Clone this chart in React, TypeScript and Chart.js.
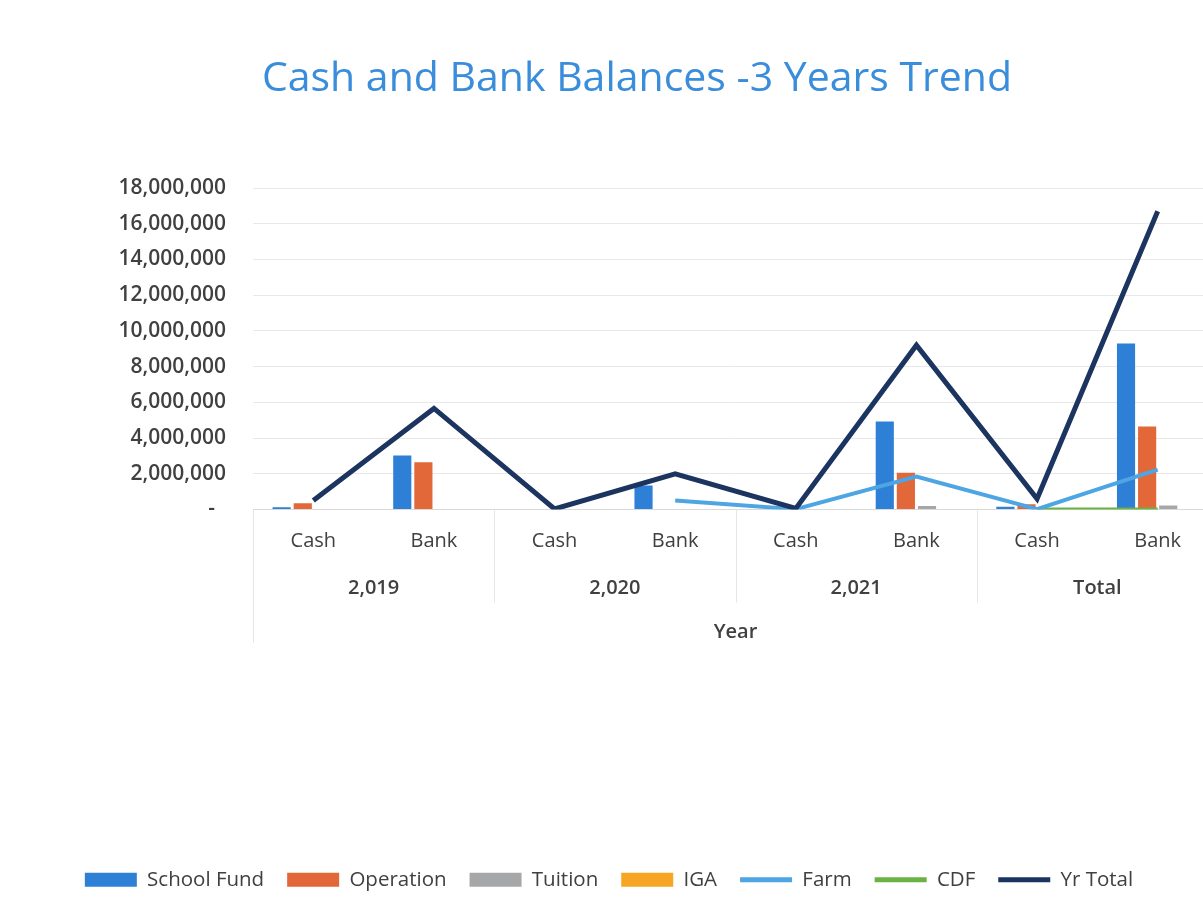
import React, { useEffect, useRef } from "react";
import { Chart, registerables } from "chart.js";

Chart.register(...registerables);

const TITLE = "Cash and Bank Balances -3 Years Trend";
const categories = ["Cash", "Bank", "Cash", "Bank", "Cash", "Bank", "Cash", "Bank"];
const groups = ["2,019", "2,020", "2,021", "Total"];
const axisTitle = "Year";

const schoolFund = [120000, 3030000, 0, 1350000, 0, 4930000, 150000, 9300000];
const operation = [350000, 2640000, 0, 0, 0, 2060000, 300000, 4650000];
const tuition = [0, 0, 0, 0, 0, 200000, 0, 220000];
const iga = [0, 0, 0, 0, 0, 0, 0, 0];
const farm = [null, null, null, 500000, 20000, 1850000, 20000, 2230000];
const cdf = [null, null, null, null, null, null, 0, 0];
const yrTotal = [500000, 5660000, 30000, 2000000, 60000, 9200000, 600000, 16700000];

const FONT = '"Open Sans", "Liberation Sans", sans-serif';

const titlePlugin = {
  id: "customTitle",
  afterDraw(chart: any) {
    const ctx = chart.ctx;
    ctx.save();
    ctx.font = `41px ${FONT}`;
    ctx.fillStyle = "#3a8ddb";
    ctx.textAlign = "center";
    ctx.textBaseline = "middle";
    ctx.fillText(TITLE, 637, 79);
    ctx.restore();
  },
};

const separatorPlugin = {
  id: "groupSeparators",
  afterDraw(chart: any) {
    const x = chart.scales.x;
    const ctx = chart.ctx;
    const w = (x.right - x.left) / groups.length;
    const base = chart.chartArea.bottom;
    ctx.save();
    ctx.strokeStyle = "#e6e6e6";
    ctx.lineWidth = 1;
    for (let i = 0; i <= groups.length; i++) {
      const px = Math.round(x.left + i * w) + 0.5;
      const bottom = i === 0 || i === groups.length ? base + 133 : base + 93;
      ctx.beginPath();
      ctx.moveTo(px, base);
      ctx.lineTo(px, bottom);
      ctx.stroke();
    }
    ctx.restore();
  },
};

export default function App() {
  const ref = useRef<HTMLCanvasElement>(null);
  useEffect(() => {
    if (!ref.current) return;
    const barCommon = { type: "bar" as const, barPercentage: 0.86, categoryPercentage: 0.7, order: 0 };
    const lineCommon = { type: "line" as const, pointRadius: 0, tension: 0, fill: false, spanGaps: false };
    const chart = new Chart(ref.current, {
      type: "bar",
      data: {
        labels: categories,
        datasets: [
          { ...barCommon, label: "School Fund", data: schoolFund, backgroundColor: "#2e7fd6" },
          { ...barCommon, label: "Operation", data: operation, backgroundColor: "#e2683a" },
          { ...barCommon, label: "Tuition", data: tuition, backgroundColor: "#a5a7a8" },
          { ...barCommon, label: "IGA", data: iga, backgroundColor: "#f6a623" },
          { ...lineCommon, label: "Farm", data: farm, borderColor: "#4ea5e3", backgroundColor: "#4ea5e3", borderWidth: 4, order: -2 },
          { ...lineCommon, label: "CDF", data: cdf, borderColor: "#6bb245", backgroundColor: "#6bb245", borderWidth: 4, order: -1 },
          { ...lineCommon, label: "Yr Total", data: yrTotal, borderColor: "#1c3460", backgroundColor: "#1c3460", borderWidth: 5, order: -3 },
        ] as any,
      },
      options: {
        animation: false,
        responsive: false,
        layout: { padding: { top: 188, left: 0, right: 12, bottom: 8 } },
        scales: {
          x: {
            type: "category",
            labels: categories,
            offset: true,
            grid: { display: false },
            border: { display: true, color: "#d9d9d9" },
            ticks: { font: { family: FONT, size: 20 }, color: "#404040", padding: 12 },
          },
          x2: {
            type: "category",
            labels: groups,
            position: "bottom",
            offset: true,
            grid: { display: false },
            border: { display: false },
            ticks: { font: { family: FONT, size: 20, weight: 600 }, color: "#404040", padding: 3 },
            title: {
              display: true,
              text: axisTitle,
              font: { family: FONT, size: 20, weight: 600 },
              color: "#404040",
              padding: { top: 17, bottom: 202 },
            },
          },
          y: {
            min: 0,
            max: 18000000,
            afterFit: (axis: any) => {
              axis.width = 253;
            },
            ticks: {
              stepSize: 2000000,
              font: { family: FONT, size: 21, weight: 600 },
              color: "#404040",
              padding: 27,
              callback: (v: any) => (Number(v) === 0 ? "-  " : Number(v).toLocaleString("en-US")),
            },
            grid: { color: "#e8e8e8", drawTicks: false },
            border: { display: false },
          },
        },
        plugins: {
          title: { display: false },
          tooltip: { enabled: false },
          legend: {
            position: "bottom",
            labels: {
              usePointStyle: true,
              pointStyleWidth: 52,
              boxHeight: 14,
              padding: 23,
              color: "#404040",
              font: { family: FONT, size: 20.5 },
              sort: (a: any, b: any) => a.datasetIndex - b.datasetIndex,
              generateLabels: (c: any) => {
                const items = Chart.defaults.plugins.legend.labels.generateLabels(c);
                return items.map((it: any) => {
                  const ds = c.data.datasets[it.datasetIndex];
                  if (ds.type === "line") {
                    return { ...it, pointStyle: "line", lineWidth: 5, strokeStyle: ds.borderColor, fillStyle: ds.borderColor };
                  }
                  return { ...it, pointStyle: "rect", lineWidth: 0, strokeStyle: ds.backgroundColor, fillStyle: ds.backgroundColor };
                });
              },
            },
          },
        },
      } as any,
      plugins: [titlePlugin, separatorPlugin],
    });
    return () => chart.destroy();
  }, []);
  return (
    <div style={{ position: "absolute", left: 0, top: 0, width: 1203, height: 908, overflow: "hidden", background: "#fff" }}>
      <canvas ref={ref} width={1230} height={908} />
    </div>
  );
}
